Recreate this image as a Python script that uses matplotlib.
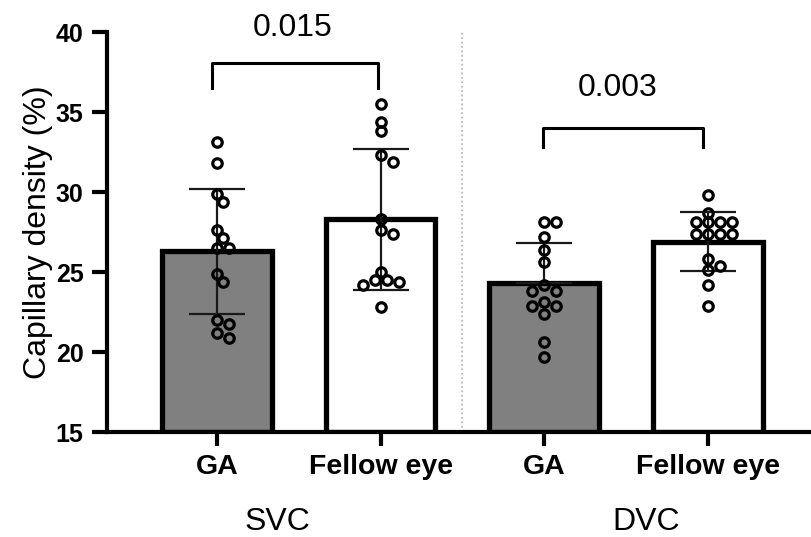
import numpy as np
import matplotlib
matplotlib.use('Agg')
import matplotlib.pyplot as plt
import matplotlib.transforms as mtransforms

plt.rcParams['font.family'] = ['Liberation Sans', 'DejaVu Sans']

# data
groups = ['SVC', 'DVC']
conditions = ['GA', 'Fellow eye', 'GA', 'Fellow eye']
means = [26.3, 28.3, 24.3, 26.9]
sds = [3.9, 4.4, 2.5, 1.85]
p_values = ['0.015', '0.003']

svc_ga = [33.1, 31.8, 29.9, 29.4, 27.6, 27.1, 26.5, 26.5, 24.9, 24.4, 22.0, 21.75, 21.2, 20.85]
svc_fellow = [35.5, 34.4, 33.8, 32.3, 31.9, 28.3, 27.6, 27.4, 25.0, 24.5, 24.5, 24.4, 24.2, 22.8]
dvc_ga = [28.1, 28.1, 27.2, 26.4, 25.6, 24.2, 23.8, 23.8, 23.1, 22.9, 22.9, 22.4, 20.6, 19.7]
dvc_fellow = [29.8, 28.7, 28.1, 28.1, 28.1, 28.1, 27.4, 27.4, 27.4, 27.4, 25.8, 25.4, 25.1, 24.2, 22.9]
points = [svc_ga, svc_fellow, dvc_ga, dvc_fellow]

fills = ['#808080', 'white', '#808080', 'white']

fig = plt.figure(figsize=(8.11, 5.37), dpi=100)
ax = fig.add_axes([107/811, 105/537, 704/811, 400/537])

x = np.arange(len(means))
ax.set_xlim(-0.672, 3.63)
ax.set_ylim(15, 40)

ax.bar(x, [m - 15 for m in means], bottom=15, width=0.67, color=fills,
       edgecolor='black', linewidth=3.8, zorder=2)

# error bars (lower half hidden in the DVC GA bar in the original)
lower = [sds[0], sds[1], 0, sds[3]]
ax.errorbar(x, means, yerr=[lower, sds], fmt='none', ecolor='#1a1a1a',
            elinewidth=1.6, capsize=20, capthick=1.6, zorder=3)


def swarm(vals, xc, step_px=6.0, diam_px=9.5):
    # simple beeswarm in pixel space
    trans = ax.transData
    placed = []
    xs = []
    for v in vals:
        px0, py = trans.transform((xc, v))
        for k in range(0, 20):
            off = step_px * ((k + 1) // 2) * (1 if k % 2 else -1) if k else 0.0
            ok = all((px0 + off - qx) ** 2 + (py - qy) ** 2 >= diam_px ** 2 for qx, qy in placed)
            if ok:
                break
        placed.append((px0 + off, py))
        xs.append(trans.inverted().transform((px0 + off, py))[0])
    return xs


for xi, vals in zip(x, points):
    xs = swarm(vals, xi)
    ax.plot(xs, vals, 'o', ms=6.8, mfc='none', mec='black', mew=2.3, zorder=4)

# divider between SVC and DVC
ax.axvline(1.5, color='#b0b0b0', ls=':', lw=1.2, zorder=1)

# significance brackets
ax.plot([-0.03, -0.03, 0.985, 0.985], [36.5, 38.04, 38.04, 36.5], color='black', lw=2.2, clip_on=False)
ax.text(0.464, 40.25, p_values[0], ha='center', va='center', fontsize=23, clip_on=False)
ax.plot([1.99, 1.99, 2.967, 2.967], [32.8, 33.98, 33.98, 32.8], color='black', lw=2.2, clip_on=False)
ax.text(2.45, 36.5, p_values[1], ha='center', va='center', fontsize=23)

ax.spines['top'].set_visible(False)
ax.spines['right'].set_visible(False)
ax.spines['left'].set_linewidth(3)
ax.spines['bottom'].set_linewidth(3)

ax.set_yticks([15, 20, 25, 30, 35, 40])
ax.tick_params(axis='y', length=11, width=3, pad=6, labelsize=18)
ax.tick_params(axis='x', length=10, width=3, pad=6, labelsize=20.5)
for lab in ax.get_yticklabels():
    lab.set_fontweight('bold')
ax.set_xticks(x)
ax.set_xticklabels(conditions, fontweight='bold')

ax.set_ylabel('Capillary density (%)', fontsize=23, labelpad=2)

trans = mtransforms.blended_transform_factory(ax.transData, ax.transAxes)
ax.text(0.37, -0.225, groups[0], transform=trans, ha='center', va='center', fontsize=23)
ax.text(2.62, -0.225, groups[1], transform=trans, ha='center', va='center', fontsize=23)

fig.savefig('out.png', dpi=100)
